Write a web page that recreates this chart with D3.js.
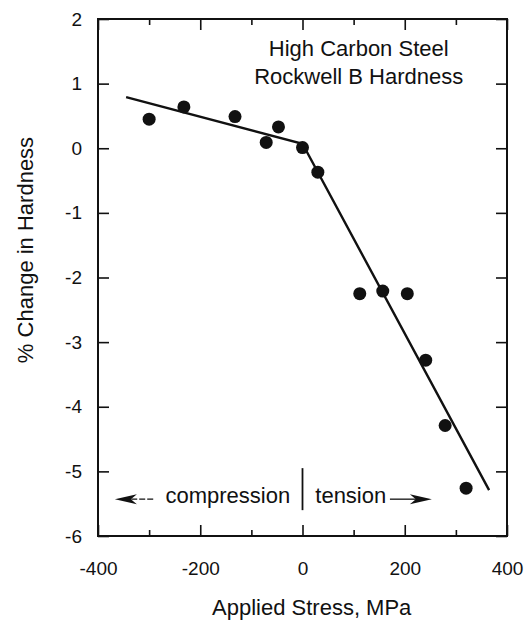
<!DOCTYPE html>
<html>
<head>
<meta charset="utf-8">
<script src="https://cdn.jsdelivr.net/npm/d3@7"></script>
<style>
  body { margin: 0; background: #fff; }
  text { font-family: "Liberation Sans", Arial, sans-serif; fill: #111; }
</style>
</head>
<body>
<div id="chart"></div>
<script>
// Measured points (stress in MPa, % change in hardness)
const stress   = [-300, -232, -132, -71, -47, 0, 30, 112, 157, 205, 241, 279, 320];
const hardness = [0.45, 0.64, 0.49, 0.09, 0.33, 0.01, -0.37, -2.25, -2.21, -2.25, -3.28, -4.29, -5.26];

// Two-segment fitted line
const fitX = [-345, 0, 365];
const fitY = [0.79, 0.07, -5.29];

const xTicks = [-400, -200, 0, 200, 400];
const xMinor = [-300, -100, 100, 300];
const yTicks = [-6, -5, -4, -3, -2, -1, 0, 1, 2];

const margin = {top: 19, right: 23, bottom: 84, left: 98},
    width = 530 - margin.left - margin.right,
    height = 620 - margin.top - margin.bottom;

const svg = d3.select("#chart")
  .append("svg")
    .attr("width", width + margin.left + margin.right)
    .attr("height", height + margin.top + margin.bottom)
  .append("g")
    .attr("transform", `translate(${margin.left},${margin.top})`);

const x = d3.scaleLinear().domain([-400, 400]).range([0, width]);
const y = d3.scaleLinear().domain([-6, 2]).range([height, 0]);

// plain hyphen for negatives, like the original
const fmt = d => String(d);

// Axes (ticks pointing inward)
const major = 11, minor = 6;

svg.append("g")
  .attr("transform", `translate(0,${height})`)
  .call(d3.axisBottom(x).tickValues(xTicks).tickSize(-major).tickPadding(major + 15).tickFormat(fmt))
  .call(g => g.selectAll("text").style("font-size", "19px"));
svg.append("g")
  .attr("transform", `translate(0,${height})`)
  .call(d3.axisBottom(x).tickValues(xMinor).tickSize(-minor).tickFormat(""));
svg.append("g")
  .call(d3.axisTop(x).tickValues(xTicks).tickSize(-major).tickFormat(""));
svg.append("g")
  .call(d3.axisTop(x).tickValues(xMinor).tickSize(-minor).tickFormat(""));

svg.append("g")
  .call(d3.axisLeft(y).tickValues(yTicks).tickSize(-major).tickPadding(major + 5).tickFormat(fmt))
  .call(g => g.selectAll("text").style("font-size", "19px"));
svg.append("g")
  .attr("transform", `translate(${width},0)`)
  .call(d3.axisRight(y).tickValues(yTicks).tickSize(-major).tickFormat(""));

svg.selectAll(".domain").remove();
svg.selectAll(".tick line").attr("stroke", "#111").attr("stroke-width", 1.6);
svg.selectAll(".tick text").attr("fill", "#111");

// Frame
svg.append("rect")
  .attr("width", width).attr("height", height)
  .attr("fill", "none").attr("stroke", "#111").attr("stroke-width", 2);

// Fitted line
const fit = fitX.map((d, i) => ({x: d, y: fitY[i]}));
svg.append("path")
  .datum(fit)
  .attr("fill", "none")
  .attr("stroke", "#111")
  .attr("stroke-width", 2.4)
  .attr("d", d3.line().x(d => x(d.x)).y(d => y(d.y)));

// Dots
const pts = stress.map((d, i) => ({x: d, y: hardness[i]}));
svg.append("g")
  .selectAll("circle")
  .data(pts)
  .join("circle")
    .attr("cx", d => x(d.x))
    .attr("cy", d => y(d.y))
    .attr("r", 6.5)
    .style("fill", "#111");

// Label box
svg.append("text")
  .attr("x", x(110)).attr("y", y(1.43))
  .attr("text-anchor", "middle")
  .style("font-size", "22px")
  .text("High Carbon Steel");
svg.append("text")
  .attr("x", x(110)).attr("y", y(1.0))
  .attr("text-anchor", "middle")
  .style("font-size", "22px")
  .text("Rockwell B Hardness");

// Compression / tension annotation
const baseY = -5.49, arrowY = -5.43;
svg.append("text")
  .attr("x", x(-268)).attr("y", y(baseY))
  .style("font-size", "22px")
  .text("compression");
svg.append("text")
  .attr("x", x(25)).attr("y", y(baseY))
  .style("font-size", "22px")
  .text("tension");

svg.append("line")
  .attr("x1", x(0)).attr("x2", x(0))
  .attr("y1", y(-4.95)).attr("y2", y(-5.6))
  .attr("stroke", "#111").attr("stroke-width", 1.8);

function arrow(from, to, dashed) {
  const x0 = x(from), x1 = x(to), yy = y(arrowY);
  const dir = Math.sign(x1 - x0);
  svg.append("line")
    .attr("x1", x0).attr("x2", x1 - dir * 14)
    .attr("y1", yy).attr("y2", yy)
    .attr("stroke", "#111").attr("stroke-width", 1.3)
    .attr("stroke-dasharray", dashed ? "6,2" : null);
  svg.append("path")
    .attr("d", `M${x1},${yy} L${x1 - dir * 22},${yy - 5} L${x1 - dir * 16},${yy} L${x1 - dir * 22},${yy + 5} Z`)
    .attr("fill", "#111");
}
arrow(-292, -367, true);
arrow(171, 253, false);

// Axis titles
svg.append("text")
  .attr("text-anchor", "middle")
  .attr("x", x(18))
  .attr("y", height + 79)
  .style("font-size", "22px")
  .text("Applied Stress, MPa");

svg.append("text")
  .attr("text-anchor", "middle")
  .attr("transform", "rotate(-90)")
  .attr("x", -(250 - margin.top))
  .attr("y", -margin.left + 33)
  .style("font-size", "22px")
  .text("% Change in Hardness");
</script>
</body>
</html>
